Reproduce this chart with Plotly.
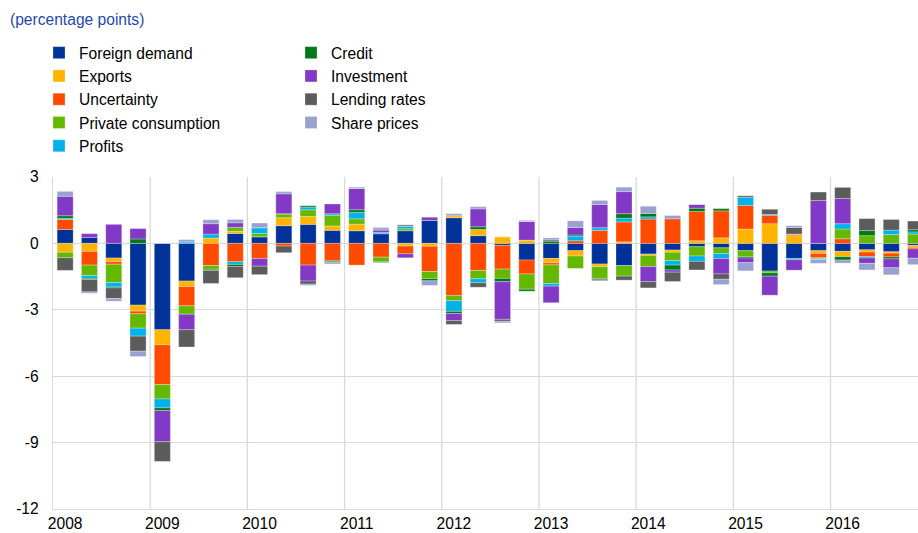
import plotly.graph_objects as go

quarters = [f"{y}Q{q}" for y in range(2008, 2017) for q in range(1, 5)]
years = ["2008", "2009", "2010", "2011", "2012", "2013", "2014", "2015", "2016"]

foreign_demand = [0.63, 0.27, -0.66, -2.79, -3.90, -1.70, 0.00, 0.45,
                  0.30, 0.80, 0.86, 0.59, 0.57, 0.44, 0.57, 1.04,
                  1.16, 0.35, -0.09, -0.75, -0.68, -0.33, -0.93, -1.00,
                  -0.48, -0.30, -0.15, -0.20, -0.33, -1.25, -0.68, -0.33,
                  -0.36, -0.29, -0.38, -0.09]
exports = [-0.40, -0.36, -0.16, -0.27, -0.68, -0.25, 0.24, 0.10,
           0.00, 0.36, 0.36, 0.20, 0.30, 0.00, -0.12, -0.13,
           0.09, 0.28, 0.30, 0.15, -0.20, -0.24, -0.12, 0.07,
           -0.06, -0.10, 0.12, 0.25, 0.65, 0.89, 0.35, -0.12,
           -0.24, -0.10, -0.06, -0.09]
uncertainty = [0.45, -0.62, -0.12, -0.12, -1.80, -0.87, -1.00, -0.83,
               -0.68, -0.12, -0.98, -0.78, -0.98, -0.62, -0.35, -1.14,
               -2.36, -1.22, -1.07, -0.63, -0.09, 0.12, 0.59, 0.90,
               1.10, 1.11, 1.32, 1.22, 1.07, 0.38, 0.07, -0.20,
               0.21, -0.21, -0.17, -0.07]
private_consumption = [-0.25, -0.47, -0.83, -0.65, -0.65, -0.38, -0.17, 0.18,
                       0.15, 0.18, 0.30, 0.48, 0.24, -0.20, 0.09, -0.32,
                       -0.23, -0.38, -0.42, -0.69, -0.84, -0.56, -0.53, -0.48,
                       -0.51, -0.38, -0.42, -0.26, -0.27, -0.08, 0.00, -0.04,
                       0.44, 0.35, 0.40, 0.42]
profits = [0.05, -0.13, -0.20, -0.36, -0.40, 0.07, 0.18, -0.12,
           0.26, 0.00, 0.12, 0.07, 0.29, 0.06, 0.12, 0.00,
           -0.48, -0.18, 0.00, 0.00, -0.12, 0.21, 0.12, 0.17,
           0.10, -0.20, -0.24, -0.22, 0.36, 0.04, -0.06, -0.04,
           0.24, -0.06, 0.20, 0.10]
credit = [0.12, -0.05, -0.04, 0.20, -0.12, 0.00, -0.05, -0.10,
          0.00, 0.00, 0.06, -0.05, 0.12, -0.04, 0.00, -0.10,
          -0.10, 0.12, -0.15, -0.09, 0.10, 0.05, -0.04, 0.20,
          0.15, -0.22, 0.15, 0.10, -0.06, -0.15, 0.00, 0.00,
          -0.15, 0.23, -0.09, 0.10]
investment = [0.88, 0.17, 0.86, 0.47, -1.41, -0.70, 0.47, 0.20,
              -0.35, 0.90, -0.72, 0.44, 0.96, 0.10, -0.18, 0.15,
              -0.32, 0.81, -1.70, 0.84, -0.75, 0.35, 1.05, 1.00,
              -0.68, -0.10, 0.17, -0.70, -0.21, -0.86, -0.47, 1.94,
              1.14, -0.24, -0.40, -0.42]
lending_rates = [-0.57, -0.56, -0.48, -0.68, -0.89, -0.78, -0.59, -0.50,
                 -0.38, -0.30, -0.14, -0.04, 0.00, 0.04, 0.06, 0.00,
                 -0.17, -0.20, -0.09, 0.00, 0.06, 0.00, -0.06, -0.18,
                 -0.28, -0.42, -0.39, -0.24, 0.07, 0.24, 0.30, 0.38,
                 0.50, 0.54, 0.48, 0.39]
share_prices = [0.22, -0.06, -0.12, -0.24, 0.00, 0.10, 0.18, 0.15,
                0.21, 0.10, -0.06, -0.06, 0.06, 0.08, 0.00, -0.21,
                0.09, 0.10, -0.07, 0.05, 0.09, 0.29, 0.18, 0.20,
                0.33, 0.15, 0.00, -0.24, -0.37, 0.00, 0.08, -0.17,
                -0.14, -0.30, -0.32, -0.29]

series = [
    ("Foreign demand", foreign_demand, "#003299", "legend"),
    ("Exports", exports, "#FFB400", "legend"),
    ("Uncertainty", uncertainty, "#FF4B00", "legend"),
    ("Private consumption", private_consumption, "#65B800", "legend"),
    ("Profits", profits, "#00B1EA", "legend"),
    ("Credit", credit, "#007816", "legend2"),
    ("Investment", investment, "#8139C6", "legend2"),
    ("Lending rates", lending_rates, "#5C5C5C", "legend2"),
    ("Share prices", share_prices, "#98A1D0", "legend2"),
]

x = list(range(len(quarters)))
FONT = "Liberation Sans, Arial, sans-serif"
FS = 15.6

fig = go.Figure()
for name, vals, color, lg in series:
    fig.add_trace(go.Bar(
        x=x, y=vals, name=name, width=0.66, legend=lg,
        marker=dict(color=color, line=dict(color="rgba(255,255,255,0.45)", width=0.6)),
        customdata=quarters,
        hovertemplate="%{customdata}<br>" + name + ": %{y}<extra></extra>",
    ))

# vertical year separators
for k in range(1, len(years)):
    fig.add_shape(type="line", xref="x", yref="y", x0=4 * k - 0.5, x1=4 * k - 0.5,
                  y0=-12, y1=3, line=dict(color="#D9D9D9", width=1.3), layer="below")

fig.update_layout(
    width=918, height=533, autosize=False,
    margin=dict(l=53, r=0, t=177, b=24, autoexpand=False),
    paper_bgcolor="white", plot_bgcolor="white",
    barmode="relative",
    font=dict(family=FONT, size=FS, color="#000000"),
    title=dict(text="(percentage points)", x=10 / 918, xanchor="left", xref="container",
               y=1 - 20 / 533, yanchor="middle", yref="container",
               font=dict(family=FONT, size=FS, color="#1F4AAE")),
    xaxis=dict(range=[-0.5, 35.1], tickvals=[4 * i for i in range(len(years))], ticktext=years,
               showgrid=False, zeroline=False, showline=True, linecolor="#D9D9D9", linewidth=1.3,
               ticks="", tickfont=dict(size=FS, color="#000000")),
    yaxis=dict(range=[-12, 3], tickvals=[3, 0, -3, -6, -9, -12], ticktext=["3", "0", "-3", "-6", "-9", "-12"],
               showgrid=True, gridcolor="#D9D9D9", gridwidth=1.3, zeroline=True, zerolinecolor="#D9D9D9",
               zerolinewidth=1.3, showline=True, linecolor="#D9D9D9", linewidth=1.3, ticks="",
               ticklabelstandoff=10, tickfont=dict(size=FS, color="#000000")),
    legend=dict(xref="container", yref="container", x=39 / 918, y=1 - 36 / 533,
                xanchor="left", yanchor="top", orientation="v", traceorder="normal",
                bgcolor="rgba(0,0,0,0)", font=dict(size=FS, color="#000000")),
    legend2=dict(xref="container", yref="container", x=291 / 918, y=1 - 36 / 533,
                 xanchor="left", yanchor="top", orientation="v", traceorder="normal",
                 bgcolor="rgba(0,0,0,0)", font=dict(size=FS, color="#000000")),
    showlegend=True,
)

fig.write_html("out.html", config={"displayModeBar": False},
               post_script="document.body.style.margin='0';")
